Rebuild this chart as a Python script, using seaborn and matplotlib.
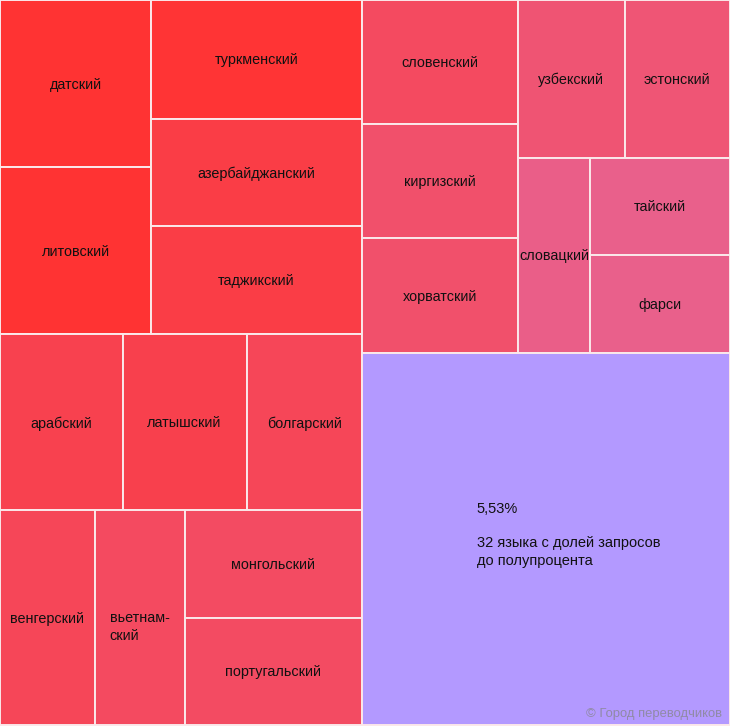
import matplotlib
matplotlib.use("Agg")
import matplotlib.pyplot as plt
from matplotlib.patches import Rectangle
import seaborn as sns

# ---- data (shares of requests, %) ----
languages = ['датский', 'литовский', 'туркменский', 'азербайджанский', 'таджикский',
             'арабский', 'латышский', 'болгарский',
             'венгерский', 'вьетнам-\nский', 'монгольский', 'португальский',
             'словенский', 'киргизский', 'хорватский',
             'узбекский', 'эстонский', 'словацкий', 'тайский', 'фарси']
shares = [1.02, 1.02, 1.01, 0.92, 0.92,
          0.87, 0.88, 0.82,
          0.82, 0.78, 0.77, 0.77,
          0.78, 0.72, 0.72,
          0.68, 0.67, 0.57, 0.55, 0.55]
other_share = 5.53
other_label = "5,53%\n\n32 языка с долей запросов\nдо полупроцента"
credit = "© Город переводчиков"

values = shares + [other_share]
OTHER = len(shares)

# nested slice structure of the treemap ('h' = side by side, 'v' = stacked)
tree = ('h', [
    ('v', [('h', [('v', [0, 1]), ('v', [2, 3, 4])]),
           ('h', [5, 6, 7]),
           ('h', [8, 9, ('v', [10, 11])])]),
    ('v', [('h', [('v', [12, 13, 14]),
                  ('v', [('h', [15, 16]),
                         ('h', [17, ('v', [18, 19])])])]),
           OTHER]),
])


def total(node):
    if isinstance(node, int):
        return values[node]
    return sum(total(c) for c in node[1])


def layout(node, x, y, w, h, out):
    if isinstance(node, int):
        out[node] = (x, y, w, h)
        return
    d, children = node
    s = total(node)
    pos = 0.0
    for c in children:
        f = total(c) / s
        if d == 'h':
            layout(c, x + pos * w, y, f * w, h, out)
        else:
            layout(c, x, y + pos * h, w, f * h, out)
        pos += f


W, H = 730.0, 725.0
rects = {}
layout(tree, 0, 0, W, H, rects)

sns.set_style("white")
plt.rcParams['font.family'] = ['Liberation Sans', 'DejaVu Sans']

cmap = sns.blend_palette(['#e9608b', '#ff3333'], as_cmap=True)
vmin, vmax = min(shares), max(shares)

fig = plt.figure(figsize=(7.30, 7.26), dpi=100)
ax = fig.add_axes([0, 0, 1, 1])
ax.set_xlim(0, W)
ax.set_ylim(726, 0)
ax.axis('off')

LINE = 17.0
for i, (x, y, w, h) in rects.items():
    if i == OTHER:
        col = '#b399ff'
    else:
        col = cmap((values[i] - vmin) / (vmax - vmin))
    ax.add_patch(Rectangle((x, y), w, h, facecolor=col, edgecolor='#fbe8ea',
                           linewidth=1.4))
    if i == OTHER:
        ax.text(x + 0.312 * w, y + 0.401 * h, other_label, ha='left', va='top',
                fontsize=10.5, color='#111111', linespacing=1.29)
        ax.text(x + w - 8, y + h - 11, credit, ha='right', va='center',
                fontsize=9.4, color='#908aa6')
    else:
        nlines = languages[i].count('\n') + 1
        ax.text(x + w / 2, y + h / 2 + 1 + (nlines - 1) * LINE / 2, languages[i],
                ha='center', va='center', multialignment='left', fontsize=10.4,
                color='#111111', linespacing=1.3)

fig.savefig('out.png', dpi=100, facecolor='white')
